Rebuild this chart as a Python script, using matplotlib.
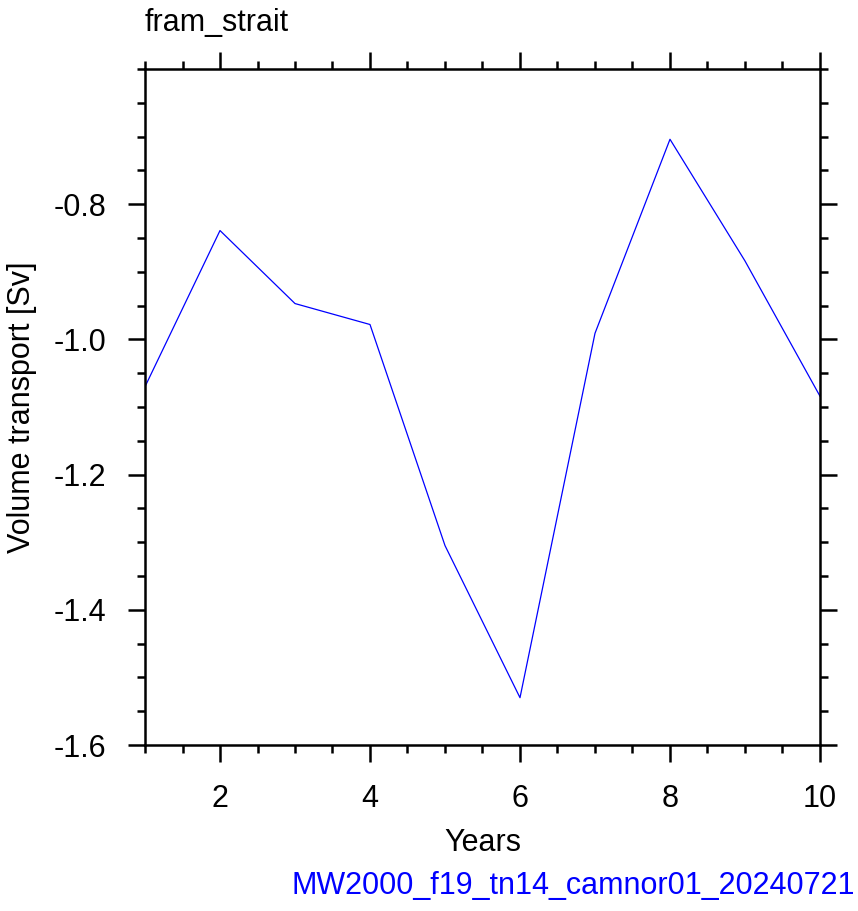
import numpy as np
import matplotlib.pyplot as plt
from matplotlib.ticker import MultipleLocator, FixedLocator

plt.rcParams['font.family'] = ['Liberation Sans', 'DejaVu Sans']

years = [1, 2, 3, 4, 5, 6, 7, 8, 9, 10]
transport = [-1.070, -0.839, -0.947, -0.978, -1.305, -1.530, -0.991, -0.704, -0.884, -1.084]
y_major = [-1.6, -1.4, -1.2, -1.0, -0.8]
y_labels = ['-1.6', '-1.4', '-1.2', '-1.0', '-0.8']
x_major = [2, 4, 6, 8, 10]

fig = plt.figure(figsize=(8.58, 9.11), dpi=100)
ax = fig.add_axes([0.169, 0.1822, 0.7867, 0.7421])

ax.plot(years, transport, color='#0000ff', lw=0.9)

ax.set_xlim(1, 10)
ax.set_ylim(-1.6, -0.6)
ax.xaxis.set_major_locator(FixedLocator(x_major))
ax.xaxis.set_minor_locator(MultipleLocator(0.5))
ax.yaxis.set_major_locator(FixedLocator(y_major))
ax.set_yticklabels(y_labels)
ax.yaxis.set_minor_locator(MultipleLocator(0.05))

for s in ax.spines.values():
    s.set_linewidth(1.8)
ax.tick_params(which='both', direction='out', top=True, right=True,
               labeltop=False, labelright=False, width=1.8, labelsize=22)
ax.tick_params(which='major', length=12, pad=16)
ax.tick_params(which='minor', length=6)

ax.set_xlabel('Years', fontsize=22, labelpad=10)
ax.set_ylabel('Volume transport [Sv]', fontsize=22, labelpad=12)
ax.set_title('fram_strait', loc='left', fontsize=22, pad=27)

fig.text(0.997, 0.011, 'MW2000_f19_tn14_camnor01_20240721', color='#0000ff',
         fontsize=22, ha='right', va='bottom')

fig.savefig('out.png', dpi=100)
